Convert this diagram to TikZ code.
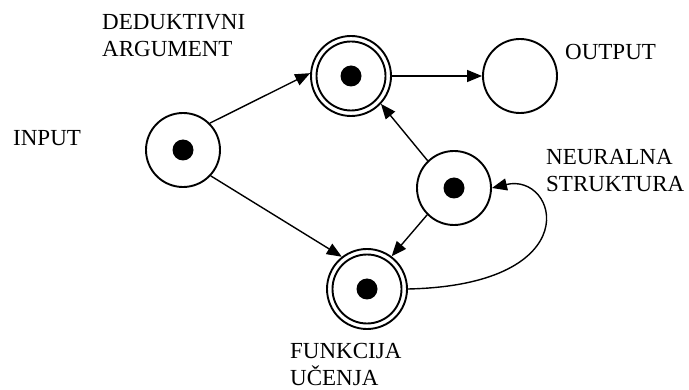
\documentclass[tikz,border=0pt]{standalone}
\usepackage{fontspec}
\setmainfont{Liberation Serif}
\usetikzlibrary{arrows.meta}
\begin{document}
\begin{tikzpicture}[x=1pt,y=-1pt,
  state/.style={circle,draw,line width=1.9pt,minimum size=74pt,inner sep=0pt},
  outerring/.style={state,minimum size=80pt},
  innerring/.style={state,minimum size=69pt},
  token/.style={circle,fill=black,minimum size=21pt,inner sep=0pt},
  lbl/.style={font=\fontsize{23}{27}\selectfont,inner sep=0pt,align=left,anchor=base west},
  edge/.style={line width=1.4pt,-{Triangle[length=15pt,width=12pt]}}]
\useasboundingbox (0,0) rectangle (689,390);

% states
\node[state] (in) at (183,150) {};
\node[outerring] (ded) at (351,76) {};
\node[innerring] (dedin) at (ded) {};
\node[state] (out) at (520,76) {};
\node[state] (neur) at (454,188) {};
\node[outerring] (funk) at (367,289) {};
\node[innerring] (funkin) at (funk) {};

% tokens
\node[token] (tin) at (in) {};
\node[token] (tded) at (ded) {};
\node[token] (tneur) at (neur) {};
\node[token] (tfunk) at (funk) {};

% labels (anchored at the baseline of the last line)
\node[lbl] (lded) at (102,57) {DEDUKTIVNI\\ARGUMENT};
\node[lbl] (lout) at (565,60) {OUTPUT};
\node[lbl] (lin) at (13,146) {INPUT};
\node[lbl] (lneur) at (546,192) {NEURALNA\\STRUKTURA};
\node[lbl] (lfunk) at (290,385) {FUNKCIJA\\UČENJA};

% connectors
\draw[edge] (in.45) -- (ded.176);
\draw[edge] (in.-43) -- (funk.128);
\draw[edge] (ded.east) -- (out.west);
\draw[edge] (neur.134) -- (ded.-43);
\draw[edge] (neur.225) -- (funk.53);
\draw[edge] (funk.east) .. controls (590,285) and (558,172) .. (neur.east);
\end{tikzpicture}
\end{document}
